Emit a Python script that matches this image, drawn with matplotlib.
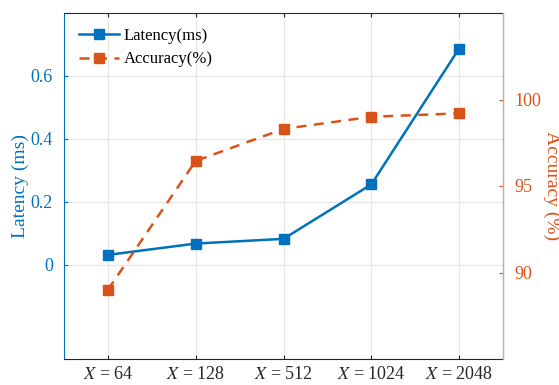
import matplotlib
matplotlib.use('Agg')
import matplotlib.pyplot as plt

plt.rcParams['font.family'] = ['Liberation Serif', 'DejaVu Serif']
plt.rcParams['mathtext.fontset'] = 'stix'

# dados do gráfico
sizes = ['64', '128', '512', '1024', '2048']
latency = [0.031, 0.067, 0.082, 0.255, 0.687]
accuracy = [89.0, 96.45, 98.3, 99.0, 99.2]

blue = '#0072BD'
orange = '#D95319'

fig = plt.figure(figsize=(5.59, 3.85), dpi=100)
ax = fig.add_axes([64 / 559, 1 - 359 / 385, (503 - 64) / 559, (359 - 13) / 385])
ax2 = ax.twinx()

xs = range(len(sizes))
l1, = ax.plot(xs, latency, '-s', color=blue, lw=1.8, ms=7, label='Latency(ms)')
l2, = ax2.plot(xs, accuracy, '--s', color=orange, lw=1.8, ms=7, dashes=(4, 3), label='Accuracy(%)')

ax.set_xlim(-0.5, 4.5)
ax.set_ylim(-0.3, 0.8)
ax2.set_ylim(85, 105)
ax.set_xticks(list(xs))
ax.set_xticklabels([f'$X$ = {s}' for s in sizes])
ax.set_yticks([0, 0.2, 0.4, 0.6])
ax.set_yticklabels(['0', '0.2', '0.4', '0.6'])
ax2.set_yticks([90, 95, 100])

ax.grid(True, color='#e6e6e6', lw=0.8)
ax.set_axisbelow(True)

ax.tick_params(axis='x', direction='in', top=True, labelsize=13, colors='#262626', length=3, pad=5)
ax.tick_params(axis='y', direction='in', labelsize=13, colors=blue, length=3, pad=8)
ax2.tick_params(axis='y', direction='in', labelsize=13, colors=orange, length=3, pad=8)

ax.spines['left'].set_color(blue)
ax.spines['bottom'].set_color('#262626')
ax.spines['top'].set_color('#262626')
ax2.spines['left'].set_visible(False)
ax2.spines['right'].set_color('#d4aa88')
for s in ['top', 'bottom']:
    ax2.spines[s].set_visible(False)

ax.set_ylabel('Latency (ms)', color=blue, fontsize=14, labelpad=1)
ax2.set_ylabel('Accuracy (%)', color=orange, fontsize=14, rotation=270, labelpad=14)

ax.legend(handles=[l1, l2], loc='upper left', frameon=False, fontsize=12,
          handlelength=2.4, handletextpad=0.3, borderaxespad=0.5, labelspacing=0.45)

fig.savefig('out.png', dpi=100)
